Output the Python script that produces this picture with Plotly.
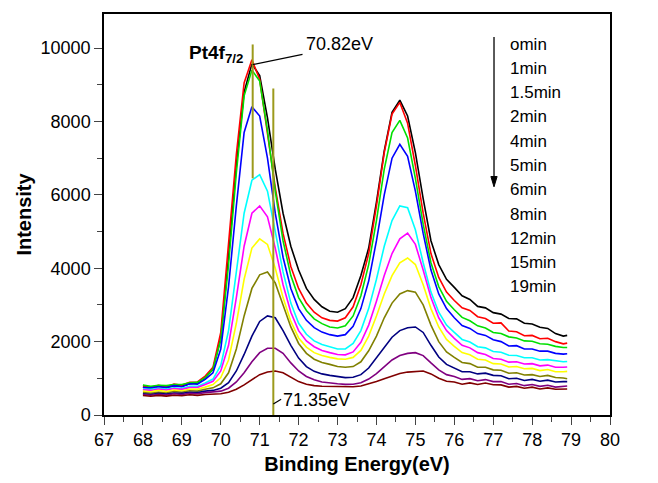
import plotly.graph_objects as go

# Binding energy grid (eV)
energy = [68.0, 68.2, 68.4, 68.6, 68.8, 69.0, 69.2, 69.4, 69.6, 69.8,
          70.0, 70.2, 70.4, 70.6, 70.8, 71.0, 71.2, 71.4, 71.6, 71.8,
          72.0, 72.2, 72.4, 72.6, 72.8, 73.0, 73.2, 73.4, 73.6, 73.8,
          74.0, 74.2, 74.4, 74.6, 74.8, 75.0, 75.2, 75.4, 75.6, 75.8,
          76.0, 76.2, 76.4, 76.6, 76.8, 77.0, 77.2, 77.4, 77.6, 77.8,
          78.0, 78.2, 78.4, 78.6, 78.8, 78.9]

# Pt 4f intensity after each sputtering time
i_0min = [760, 720, 780, 740, 800, 780, 850, 870, 1010, 1250,
          2100, 4300, 6800, 8800, 9570, 9250, 8100, 6700, 5500, 4600,
          3950, 3450, 3150, 2950, 2830, 2800, 2900, 3200, 3800, 4550,
          5800, 7200, 8250, 8580, 8150, 7150, 5900, 4750, 4100, 3700,
          3480, 3250, 3150, 2960, 2920, 2790, 2750, 2630, 2620, 2500,
          2480, 2390, 2360, 2220, 2150, 2170]
i_1min = [800, 750, 810, 770, 840, 810, 890, 900, 1060, 1300,
          2250, 4600, 7100, 9050, 9680, 9150, 7700, 6200, 4950, 4050,
          3450, 3050, 2800, 2650, 2580, 2560, 2650, 2950, 3550, 4400,
          5700, 7150, 8200, 8520, 7950, 6800, 5500, 4400, 3750, 3350,
          3120, 2920, 2850, 2680, 2630, 2500, 2510, 2290, 2270, 2160,
          2170, 2080, 2090, 2000, 1940, 1960]
i_1p5min = [820, 780, 810, 800, 830, 830, 880, 890, 1020, 1250,
            2050, 4100, 6600, 8700, 9400, 9100, 7750, 6100, 4750, 3800,
            3200, 2850, 2620, 2490, 2400, 2370, 2430, 2700, 3250, 4100,
            5300, 6700, 7700, 8030, 7550, 6450, 5200, 4150, 3500, 3100,
            2870, 2660, 2570, 2430, 2370, 2250, 2220, 2130, 2100, 2020,
            2010, 1940, 1930, 1870, 1840, 1840]
i_2min = [750, 740, 770, 750, 800, 770, 850, 840, 970, 1150,
          1800, 3500, 5700, 7700, 8400, 8150, 7000, 5500, 4300, 3450,
          2900, 2580, 2380, 2260, 2190, 2150, 2190, 2420, 2900, 3650,
          4750, 6000, 7000, 7380, 7050, 6100, 4950, 3950, 3300, 2900,
          2650, 2440, 2360, 2220, 2170, 2050, 2000, 1880, 1890, 1800,
          1800, 1740, 1740, 1680, 1660, 1670]
i_4min = [710, 700, 730, 710, 740, 730, 780, 780, 870, 980,
          1350, 2300, 3900, 5500, 6400, 6550, 6100, 5000, 3900, 3050,
          2500, 2200, 2020, 1920, 1850, 1800, 1800, 1950, 2300, 2900,
          3700, 4600, 5300, 5700, 5650, 5050, 4150, 3350, 2800, 2450,
          2250, 2060, 1990, 1860, 1830, 1730, 1710, 1630, 1620, 1560,
          1560, 1500, 1510, 1470, 1450, 1460]
i_5min = [690, 670, 710, 680, 720, 700, 750, 750, 830, 920,
          1200, 1900, 3200, 4600, 5500, 5700, 5400, 4550, 3550, 2800,
          2300, 2020, 1860, 1760, 1700, 1650, 1640, 1720, 1980, 2450,
          3100, 3800, 4400, 4800, 4960, 4650, 3950, 3200, 2650, 2300,
          2090, 1900, 1830, 1700, 1650, 1540, 1520, 1440, 1450, 1390,
          1400, 1340, 1360, 1300, 1300, 1310]
i_6min = [650, 630, 670, 640, 680, 660, 700, 700, 760, 830,
          1020, 1500, 2500, 3700, 4550, 4800, 4650, 4000, 3200, 2550,
          2100, 1850, 1700, 1620, 1570, 1530, 1520, 1570, 1760, 2150,
          2700, 3300, 3800, 4150, 4280, 4100, 3550, 2900, 2400, 2060,
          1870, 1700, 1640, 1520, 1500, 1400, 1390, 1310, 1320, 1260,
          1270, 1210, 1240, 1180, 1180, 1190]
i_8min = [610, 590, 620, 600, 640, 620, 660, 650, 700, 740,
          850, 1150, 1800, 2700, 3450, 3820, 3900, 3600, 3000, 2400,
          1950, 1680, 1520, 1430, 1380, 1320, 1300, 1320, 1450, 1750,
          2150, 2650, 3050, 3300, 3390, 3350, 3000, 2450, 2000, 1720,
          1570, 1430, 1400, 1300, 1300, 1230, 1220, 1140, 1150, 1090,
          1100, 1050, 1080, 1020, 1010, 990]
i_12min = [580, 560, 590, 570, 600, 590, 620, 610, 650, 670,
           730, 880, 1200, 1650, 2150, 2550, 2700, 2650, 2300, 1900,
           1550, 1320, 1190, 1120, 1080, 1040, 1020, 1030, 1100, 1280,
           1550, 1850, 2120, 2300, 2380, 2400, 2250, 1900, 1580, 1380,
           1280, 1180, 1180, 1120, 1140, 1080, 1070, 990, 1000, 940,
           970, 920, 950, 900, 910, 910]
i_15min = [560, 540, 565, 545, 580, 560, 590, 580, 610, 620,
           650, 730, 900, 1150, 1450, 1700, 1820, 1820, 1680, 1420,
           1200, 1050, 960, 900, 870, 850, 835, 840, 880, 980,
           1130, 1320, 1500, 1620, 1680, 1700, 1620, 1420, 1230, 1100,
           1050, 970, 990, 935, 965, 910, 910, 840, 860, 800,
           830, 780, 810, 760, 780, 790]
i_19min = [530, 510, 535, 515, 540, 525, 550, 535, 560, 560,
           580, 620, 700, 820, 960, 1100, 1170, 1200, 1150, 1030,
           910, 840, 800, 785, 780, 770, 765, 770, 790, 840,
           910, 990, 1070, 1130, 1170, 1195, 1200, 1120, 1000, 920,
           900, 840, 875, 830, 870, 825, 820, 760, 780, 730,
           760, 710, 740, 700, 720, 710]

time_labels = ["omin", "1min", "1.5min", "2min", "4min", "5min",
               "6min", "8min", "12min", "15min", "19min"]
series = [i_0min, i_1min, i_1p5min, i_2min, i_4min, i_5min,
          i_6min, i_8min, i_12min, i_15min, i_19min]
colors = ["#000000", "#ff0000", "#00e000", "#0000ff", "#00ffff", "#ff00ff",
          "#ffff00", "#808000", "#000080", "#800080", "#800000"]

# Peak position markers (eV)
peak_main = 70.82
peak_shifted = 71.35

FONT = "Arial, Liberation Sans, sans-serif"

fig = go.Figure()
for name, ys, c in zip(time_labels, series, colors):
    fig.add_trace(go.Scatter(x=energy, y=ys, mode="lines", name=name,
                             line=dict(color=c, width=1.6), showlegend=False))

line_col = "#9c9a1c"
fig.add_shape(type="line", x0=peak_main, x1=peak_main, y0=6450, y1=10100,
              line=dict(color=line_col, width=2))
fig.add_shape(type="line", x0=peak_shifted, x1=peak_shifted, y0=0, y1=8900,
              line=dict(color=line_col, width=2))

# Leader for the 70.82 eV label
fig.add_shape(type="line", x0=peak_main, x1=72.1, y0=9550, y1=9830,
              line=dict(color="black", width=1.2))
fig.add_annotation(x=72.15, y=10120, text=f"{peak_main}eV", showarrow=False,
                   xanchor="left", yanchor="middle",
                   font=dict(family=FONT, size=18, color="black"))
fig.add_annotation(x=70.62, y=9850, text="<b>Pt4f<sub>7/2</sub></b>", showarrow=False,
                   xanchor="right", yanchor="middle",
                   font=dict(family=FONT, size=19, color="black"))

# Leader for the 71.35 eV label
fig.add_shape(type="line", x0=peak_shifted, x1=71.55, y0=300, y1=430,
              line=dict(color="black", width=1.2))
fig.add_annotation(x=71.55, y=420, text=f"{peak_shifted}eV", showarrow=False,
                   xanchor="left", yanchor="middle",
                   font=dict(family=FONT, size=18, color="black"))

# Sputtering-time list with a downward arrow
legend_top = 10110
legend_step = 662
for k, lab in enumerate(time_labels):
    fig.add_annotation(x=77.38, y=legend_top - k * legend_step, text=lab,
                       showarrow=False, xanchor="left", yanchor="middle",
                       font=dict(family=FONT, size=17, color="black"))
arrow_x = 77.02
fig.add_shape(type="line", x0=arrow_x, x1=arrow_x, y0=10300, y1=6400,
              line=dict(color="black", width=1.3))
fig.add_shape(type="path",
              path=f"M {arrow_x - 0.08},6500 L {arrow_x + 0.08},6500 L {arrow_x},6220 Z",
              fillcolor="black", line=dict(color="black", width=1))

fig.update_layout(
    width=658, height=483,
    margin=dict(l=104, r=48, t=14, b=68),
    paper_bgcolor="white", plot_bgcolor="white",
    font=dict(family=FONT, size=18, color="black"),
)
fig.update_xaxes(range=[67, 80], tickmode="linear", tick0=67, dtick=1,
                 ticks="outside", ticklen=8, tickwidth=1.3,
                 minor=dict(ticks="outside", ticklen=5, dtick=0.5, tickwidth=1.3),
                 showline=True, linecolor="black", linewidth=1.5, mirror=True,
                 showgrid=False, zeroline=False,
                 title=dict(text="<b>Binding Energy(eV)</b>", font=dict(size=20), standoff=8),
                 tickfont=dict(size=18))
fig.update_yaxes(range=[0, 10930], tickmode="linear", tick0=0, dtick=2000,
                 tickformat="d",
                 ticks="outside", ticklen=8, tickwidth=1.3,
                 minor=dict(ticks="outside", ticklen=5, dtick=1000, tickwidth=1.3),
                 showline=True, linecolor="black", linewidth=1.5, mirror=True,
                 showgrid=False, zeroline=False,
                 title=dict(text="<b>Intensity</b>", font=dict(size=20), standoff=4),
                 tickfont=dict(size=18))

fig.write_html("out.html")
